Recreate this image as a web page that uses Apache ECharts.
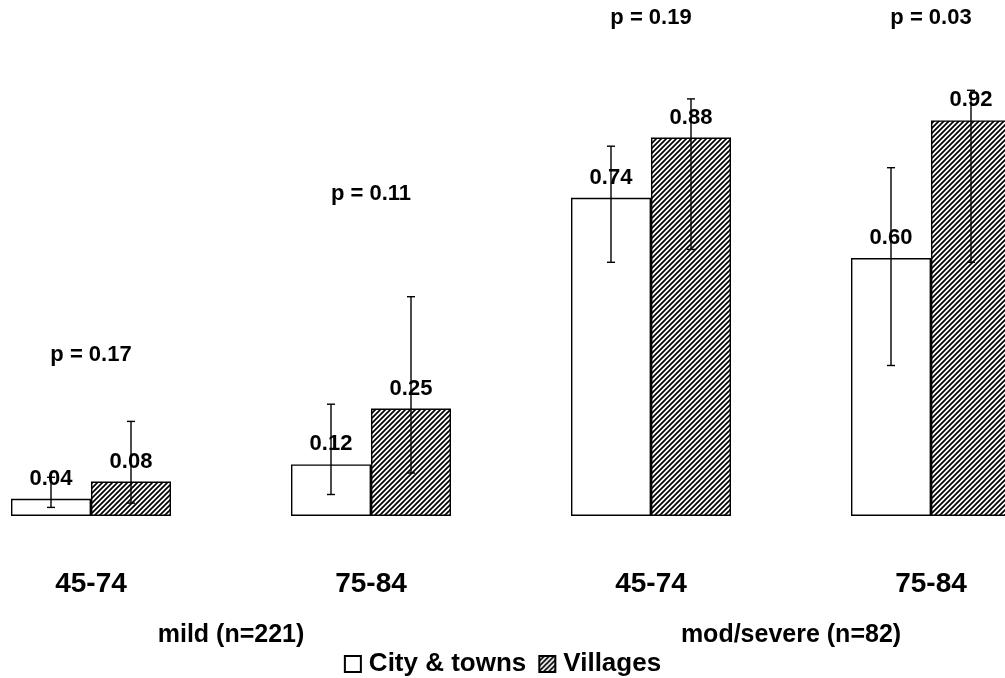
<!DOCTYPE html>
<html>
<head>
<meta charset="utf-8">
<script src="https://cdn.jsdelivr.net/npm/echarts@6/dist/echarts.min.js"></script>
<style>
  html, body { margin: 0; padding: 0; background: #fff; }
  #chart { width: 1005px; height: 678px; }
</style>
</head>
<body>
<div id="chart"></div>
<script>
// Age bands within each severity group
const ageBands = ['45-74', '75-84', '45-74', '75-84'];
const severityGroups = ['mild (n=221)', 'mod/severe (n=82)'];

// Rates by residence
const cityValues = [0.04, 0.12, 0.74, 0.60];
const villageValues = [0.08, 0.25, 0.88, 0.92];

// Confidence interval bounds
const cityLower = [0.02, 0.05, 0.59, 0.35];
const cityUpper = [0.09, 0.26, 0.86, 0.81];
const villageLower = [0.03, 0.10, 0.62, 0.59];
const villageUpper = [0.22, 0.51, 0.97, 0.99];

// Significance of the city/village difference per age band
const pValues = ['p = 0.17', 'p = 0.11', 'p = 0.19', 'p = 0.03'];

// Layout: height (in axis units) at which each p-value sits
const pLabelHeight = [0.374, 0.749, 1.158, 1.158];

const FONT = "'Liberation Sans', Arial, sans-serif";
const BAR_W = 80;

// Diagonal hatch fill for the village bars
function hatchPattern() {
  const s = 5;
  const c = document.createElement('canvas');
  c.width = s; c.height = s;
  const g = c.getContext('2d');
  g.fillStyle = '#fff';
  g.fillRect(0, 0, s, s);
  g.strokeStyle = '#000';
  g.lineWidth = 1.7;
  g.beginPath();
  g.moveTo(-1, s + 1); g.lineTo(s + 1, -1);
  g.moveTo(-1, 1); g.lineTo(1, -1);
  g.moveTo(s - 1, s + 1); g.lineTo(s + 1, s - 1);
  g.stroke();
  return c;
}
const hatch = { image: hatchPattern(), repeat: 'repeat' };

function errorData(lower, upper) {
  return lower.map((lo, i) => [i, lo, upper[i]]);
}

function errorBar(offset) {
  return function (params, api) {
    const lo = api.coord([api.value(0), api.value(1)]);
    const hi = api.coord([api.value(0), api.value(2)]);
    const x = lo[0] + offset;
    const cap = 4;
    const style = { stroke: '#000', lineWidth: 1.4 };
    return {
      type: 'group',
      children: [
        { type: 'line', shape: { x1: x, y1: hi[1], x2: x, y2: lo[1] }, style },
        { type: 'line', shape: { x1: x - cap, y1: hi[1], x2: x + cap, y2: hi[1] }, style },
        { type: 'line', shape: { x1: x - cap, y1: lo[1], x2: x + cap, y2: lo[1] }, style }
      ]
    };
  };
}

const valueLabel = {
  show: true,
  position: 'top',
  distance: 9,
  color: '#000',
  fontFamily: FONT,
  fontWeight: 'bold',
  fontSize: 22,
  formatter: p => p.value.toFixed(2)
};

const chart = echarts.init(document.getElementById('chart'), null, { renderer: 'canvas' });
chart.setOption({
  animation: false,
  backgroundColor: '#fff',
  grid: {
    left: -49, right: -66, top: 0, bottom: 162,
    containLabel: false,
    outerBoundsMode: 'none'
  },
  legend: {
    bottom: -4,
    left: 'center',
    icon: 'rect',
    itemWidth: 16,
    itemHeight: 16,
    itemGap: 12,
    data: ['City & towns', 'Villages'],
    textStyle: { color: '#000', fontFamily: FONT, fontWeight: 'bold', fontSize: 26, padding: [0, 0, 0, 3] }
  },
  xAxis: [
    {
      type: 'category',
      data: ageBands,
      position: 'bottom',
      axisLine: { show: false },
      axisTick: { show: false },
      axisLabel: { margin: 54, color: '#000', fontFamily: FONT, fontWeight: 'bold', fontSize: 28 }
    },
    {
      type: 'category',
      data: severityGroups,
      position: 'bottom',
      axisLine: { show: false },
      axisTick: { show: false },
      axisLabel: { margin: 107, color: '#000', fontFamily: FONT, fontWeight: 'bold', fontSize: 25 }
    }
  ],
  yAxis: { type: 'value', min: 0, max: 1.2, show: false, splitLine: { show: false } },
  series: [
    {
      name: 'City & towns',
      type: 'bar',
      data: cityValues,
      barWidth: BAR_W,
      barGap: '0%',
      itemStyle: { color: '#fff', borderColor: '#000', borderWidth: 1.4 },
      label: valueLabel
    },
    {
      name: 'Villages',
      type: 'bar',
      data: villageValues,
      barWidth: BAR_W,
      barGap: '0%',
      itemStyle: { color: hatch, borderColor: '#000', borderWidth: 1.4 },
      label: valueLabel
    },
    {
      type: 'custom',
      z: 5,
      data: errorData(cityLower, cityUpper),
      renderItem: errorBar(-BAR_W / 2),
      encode: { x: 0, y: [1, 2] }
    },
    {
      type: 'custom',
      z: 5,
      data: errorData(villageLower, villageUpper),
      renderItem: errorBar(BAR_W / 2),
      encode: { x: 0, y: [1, 2] }
    },
    {
      type: 'scatter',
      symbolSize: 0,
      itemStyle: { opacity: 1 },
      data: pLabelHeight.map((h, i) => [i, h, pValues[i]]),
      label: {
        show: true,
        position: 'inside',
        color: '#000',
        opacity: 1,
        fontFamily: FONT,
        fontWeight: 'bold',
        fontSize: 22,
        formatter: p => p.value[2]
      }
    }
  ]
});
</script>
</body>
</html>
